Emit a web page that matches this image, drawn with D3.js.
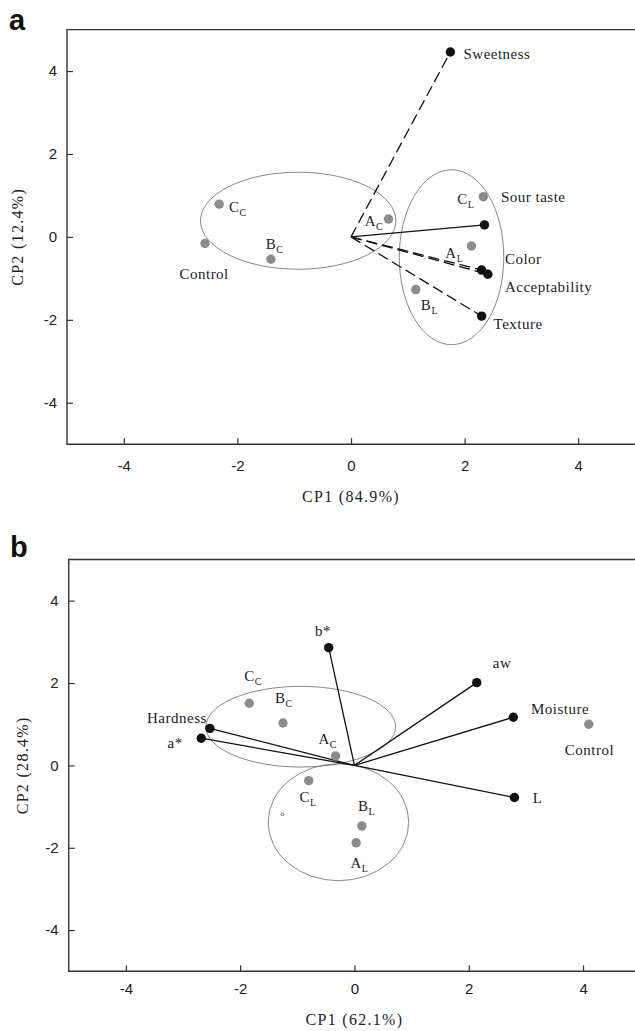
<!DOCTYPE html>
<html>
<head>
<meta charset="utf-8">
<script src="https://cdn.jsdelivr.net/npm/d3@7.9.0/dist/d3.min.js"></script>
<style>
  html, body { margin: 0; padding: 0; background: #fff; }
  svg { display: block; }
  .tick text { font-family: "Liberation Sans", Arial, sans-serif; font-size: 15px; fill: #222; }
  .tick line { stroke: #333; stroke-width: 1.2; }
  .lbl { font-family: "Liberation Serif", "Times New Roman", serif; font-size: 15px; fill: #222; letter-spacing: 0.5px; }
  .title { font-family: "Liberation Serif", "Times New Roman", serif; font-size: 16px; fill: #222; letter-spacing: 1.3px; }
  .panel { font-family: "Liberation Sans", Arial, sans-serif; font-weight: bold; font-size: 29px; fill: #111; }
</style>
</head>
<body>
<svg id="chart" width="635" height="1031"></svg>
<script>
// ---------- panel a data ----------
const ticksA = [-4, -2, 0, 2, 4];
const loadNamesA = ["Sweetness", "Sour taste", "Color", "Acceptability", "Texture"];
const loadXA = [1.75, 2.35, 2.30, 2.41, 2.30];
const loadYA = [4.46, 0.29, -0.80, -0.90, -1.91];
const loadLblXA = [1.98, 2.64, 2.71, 2.71, 2.51];
const loadLblYA = [4.30, 0.84, -0.65, -1.34, -2.23];

const sampleNamesA = ["Control", "A_C", "B_C", "C_C", "A_L", "B_L", "C_L"];
const sampleXA = [-2.57, 0.66, -1.41, -2.32, 2.12, 1.14, 2.33];
const sampleYA = [-0.16, 0.43, -0.54, 0.79, -0.22, -1.27, 0.97];
const sampleLblXA = [-3.02, 0.24, -1.50, -2.15, 1.66, 1.23, 1.87];
const sampleLblYA = [-1.01, 0.27, -0.30, 0.61, -0.50, -1.76, 0.80];

// ellipses: cx, cy, rx, ry (data units)
const ellipsesA = [[-0.93, 0.39, 1.72, 1.17], [1.77, -0.49, 0.92, 2.11]];

// ---------- panel b data ----------
const ticksB = [-4, -2, 0, 2, 4];
const loadNamesB = ["b*", "aw", "Moisture", "L", "Hardness", "a*"];
const loadXB = [-0.45, 2.14, 2.78, 2.80, -2.53, -2.68];
const loadYB = [2.86, 2.01, 1.17, -0.78, 0.90, 0.66];
const loadLblXB = [-0.69, 2.42, 3.09, 3.12, -3.63, -3.27];
const loadLblYB = [3.14, 2.36, 1.25, -0.92, 1.04, 0.43];

const sampleNamesB = ["Control", "C_C", "B_C", "A_C", "C_L", "B_L", "A_L"];
const sampleXB = [4.10, -1.84, -1.25, -0.33, -0.80, 0.13, 0.03];
const sampleYB = [1.00, 1.51, 1.03, 0.23, -0.37, -1.47, -1.88];
const sampleLblXB = [3.68, -1.93, -1.39, -0.63, -0.96, 0.06, -0.07];
const sampleLblYB = [0.25, 2.05, 1.52, 0.51, -0.89, -1.11, -2.48];

const ellipsesB = [[-0.94, 0.94, 1.66, 0.98], [-0.28, -1.38, 1.23, 1.42]];
const strayMarkB = [-1.26, -1.19];

const svg = d3.select('#chart');

// write "A_C" as A with subscript C
function setLabel(sel, name) {
  const parts = name.split('_');
  sel.append('tspan').text(parts[0]);
  if (parts.length > 1) {
    sel.append('tspan').attr('dy', 4).style('font-size', '10px').style('letter-spacing', '0px').text(parts[1]);
  }
}

function drawPanel(opt) {
  const g = svg.append('g');
  const x = d3.scaleLinear().domain([-5, 5]).range(opt.xRange);
  const y = d3.scaleLinear().domain([-5, 5]).range(opt.yRange);
  const fmt = d => String(d); // plain hyphen minus, like the original

  // axes with inward ticks
  g.append('g')
    .attr('transform', `translate(0,${opt.yRange[0]})`)
    .call(d3.axisBottom(x).tickValues(opt.ticks).tickFormat(fmt).tickSize(-6).tickPadding(opt.xPad))
    .call(a => a.select('.domain').remove());
  g.append('g')
    .attr('transform', `translate(${opt.xRange[0]},0)`)
    .call(d3.axisLeft(y).tickValues(opt.ticks).tickFormat(fmt).tickSize(-6).tickPadding(10))
    .call(a => a.select('.domain').remove());

  // frame: left, top, bottom (right edge falls outside the picture)
  const [x0, x1] = opt.xRange, [yb, yt] = opt.yRange;
  g.append('path')
    .attr('d', `M${x1},${yt}H${x0}V${yb}H${x1}`)
    .attr('fill', 'none').attr('stroke', '#333').attr('stroke-width', 1.4);

  // ellipses
  g.selectAll('ellipse.grp').data(opt.ellipses).join('ellipse')
    .attr('class', 'grp')
    .attr('cx', d => x(d[0])).attr('cy', d => y(d[1]))
    .attr('rx', d => x(d[0] + d[2]) - x(d[0]))
    .attr('ry', d => y(d[1]) - y(d[1] + d[3]))
    .attr('fill', 'none').attr('stroke', '#6a6a6a').attr('stroke-width', 0.8);

  // loading vectors
  const loads = opt.loadNames.map((n, i) => ({ n, x: opt.loadX[i], y: opt.loadY[i], lx: opt.loadLblX[i], ly: opt.loadLblY[i] }));
  g.selectAll('line.vec').data(loads).join('line')
    .attr('class', 'vec')
    .attr('x1', x(0)).attr('y1', y(0))
    .attr('x2', d => x(d.x)).attr('y2', d => y(d.y))
    .attr('stroke', '#111').attr('stroke-width', 1.3)
    .attr('stroke-dasharray', d => opt.dashed.includes(d.n) ? '11,5' : null);

  const samples = opt.sampleNames.map((n, i) => ({ n, x: opt.sampleX[i], y: opt.sampleY[i], lx: opt.sampleLblX[i], ly: opt.sampleLblY[i] }));
  g.selectAll('circle.smp').data(samples).join('circle')
    .attr('class', 'smp')
    .attr('cx', d => x(d.x)).attr('cy', d => y(d.y)).attr('r', 4.7)
    .attr('fill', '#8c8c8c');
  g.selectAll('circle.ld').data(loads).join('circle')
    .attr('class', 'ld')
    .attr('cx', d => x(d.x)).attr('cy', d => y(d.y)).attr('r', 4.7)
    .attr('fill', '#111');

  // labels
  g.selectAll('text.lbl').data(loads.concat(samples)).join('text')
    .attr('class', 'lbl')
    .attr('x', d => x(d.lx)).attr('y', d => y(d.ly))
    .each(function (d) { setLabel(d3.select(this), d.n); });

  if (opt.stray) {
    g.append('ellipse')
      .attr('cx', x(opt.stray[0])).attr('cy', y(opt.stray[1]))
      .attr('rx', 1.6).attr('ry', 1.2)
      .attr('fill', 'none').attr('stroke', '#555').attr('stroke-width', 0.8);
  }

  // titles
  g.append('text').attr('class', 'title')
    .attr('x', x(0)).attr('y', opt.xTitleY)
    .attr('text-anchor', 'middle').text(opt.xTitle);
  g.append('text').attr('class', 'title')
    .attr('transform', `translate(${opt.yTitleX},${y(0)}) rotate(-90)`)
    .attr('text-anchor', 'middle').text(opt.yTitle);
  g.append('text').attr('class', 'panel')
    .attr('x', opt.tagX).attr('y', opt.tagY).text(opt.tag);
}

drawPanel({
  xRange: [67, 635], yRange: [444.2, 29.6], ticks: ticksA, xPad: 16,
  ellipses: ellipsesA,
  loadNames: loadNamesA, loadX: loadXA, loadY: loadYA, loadLblX: loadLblXA, loadLblY: loadLblYA,
  sampleNames: sampleNamesA, sampleX: sampleXA, sampleY: sampleYA, sampleLblX: sampleLblXA, sampleLblY: sampleLblYA,
  dashed: ["Sweetness", "Color", "Acceptability", "Texture"],
  xTitle: "CP1 (84.9%)", xTitleY: 502, yTitle: "CP2 (12.4%)", yTitleX: 23,
  tag: "a", tagX: 9, tagY: 30
});

drawPanel({
  xRange: [68.7, 640.2], yRange: [971.3, 559.5], ticks: ticksB, xPad: 12,
  ellipses: ellipsesB,
  loadNames: loadNamesB, loadX: loadXB, loadY: loadYB, loadLblX: loadLblXB, loadLblY: loadLblYB,
  sampleNames: sampleNamesB, sampleX: sampleXB, sampleY: sampleYB, sampleLblX: sampleLblXB, sampleLblY: sampleLblYB,
  dashed: [],
  stray: strayMarkB,
  xTitle: "CP1 (62.1%)", xTitleY: 1025, yTitle: "CP2 (28.4%)", yTitleX: 28,
  tag: "b", tagX: 10, tagY: 557
});
</script>
</body>
</html>
